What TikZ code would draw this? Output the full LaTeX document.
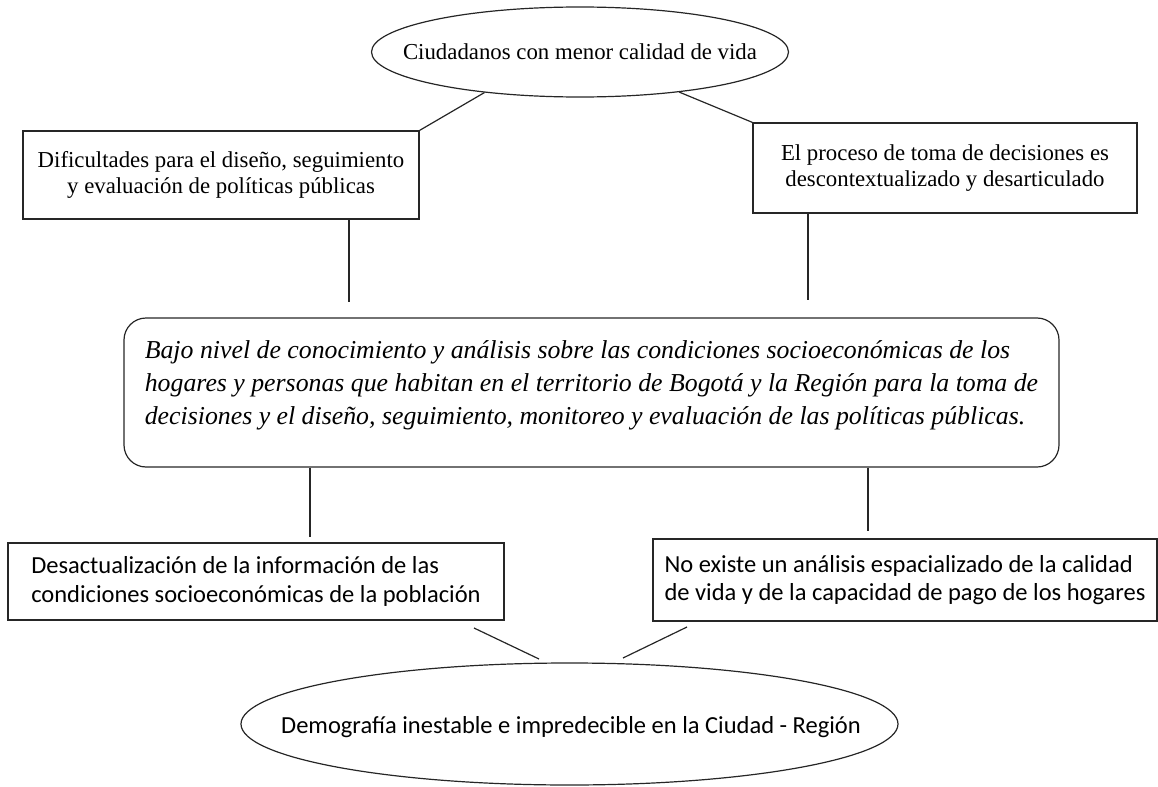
\documentclass[tikz,border=0pt]{standalone}
\usepackage{fontspec}
\setmainfont{Liberation Serif}
\newfontfamily\calibrifont{Carlito}
\usepackage{tikz}
\usetikzlibrary{shapes.geometric}

\begin{document}
\begin{tikzpicture}[x=0.5pt,y=-0.5pt,
        linea/.style={draw=black!85,line width=0.6pt},
        caja/.style={linea,rectangle,inner sep=3pt},
        elipse/.style={linea,ellipse,inner sep=0pt},
        serif/.style={font=\fontsize{11.4}{13}\selectfont,align=center},
        cursiva/.style={font=\itshape\fontsize{12.9}{16.5}\selectfont,align=left},
        sans/.style={font=\calibrifont\fontsize{12.25}{14.25}\selectfont,align=left}]
        \useasboundingbox (0,0) rectangle (1158,787);
        \node[elipse,minimum width=208.5pt,minimum height=45pt] (ciud) at (580,52) {};
        \node[serif] (ciudtxt) at (ciud) {Ciudadanos con menor calidad de vida};
        \node[caja,serif,minimum width=198pt,minimum height=44pt] (dif) at (221,175)
            {Dificultades para el diseño, seguimiento\\y evaluación de políticas públicas};
        \node[caja,serif,minimum width=192pt,minimum height=45pt] (proc) at (945,168)
            {El proceso de toma de decisiones es\\descontextualizado y desarticulado};
        \node[caja,rounded corners=11pt,minimum width=467.5pt,minimum height=74.5pt] (bajo) at (591.5,392.5) {};
        \node[cursiva] (bajotxt) at (591.5,385)
            {Bajo nivel de conocimiento y análisis sobre las condiciones socioeconómicas de los\\hogares y personas que habitan en el territorio de Bogotá y la Región para la toma de\\decisiones y el diseño, seguimiento, monitoreo y evaluación de las políticas públicas.};
        \node[caja,sans,minimum width=248pt,minimum height=38.5pt] (desact) at (256,581.5)
            {Desactualización de la información de las\\condiciones socioeconómicas de la población};
        \node[caja,sans,minimum width=252pt,minimum height=41pt] (noex) at (905,580)
            {No existe un análisis espacializado de la calidad\\de vida y de la capacidad de pago de los hogares};
        \node[elipse,minimum width=328.5pt,minimum height=61pt] (demo) at (569.5,724) {};
        \node[sans] (demotxt) at (571,727) {Demografía inestable e impredecible en la Ciudad - Región};
        \coordinate (a1) at (349,302);
        \coordinate (a2) at (808,300);
        \coordinate (b1) at (310,537);
        \coordinate (b2) at (868,531);
        \coordinate (c1) at (474,628);
        \coordinate (c2) at (539,659);
        \coordinate (c3) at (687,627);
        \coordinate (c4) at (623,658);
        \draw[linea] (ciud.203) -- (dif.north east);
        \draw[linea] (ciud.338) -- (proc.north west);
        \draw[linea] (dif.south -| a1) -- (a1);
        \draw[linea] (proc.south -| a2) -- (a2);
        \draw[linea] (bajo.south -| b1) -- (b1);
        \draw[linea] (bajo.south -| b2) -- (b2);
        \draw[linea] (c1) -- (c2);
        \draw[linea] (c3) -- (c4);
    \end{tikzpicture}
\end{document}
